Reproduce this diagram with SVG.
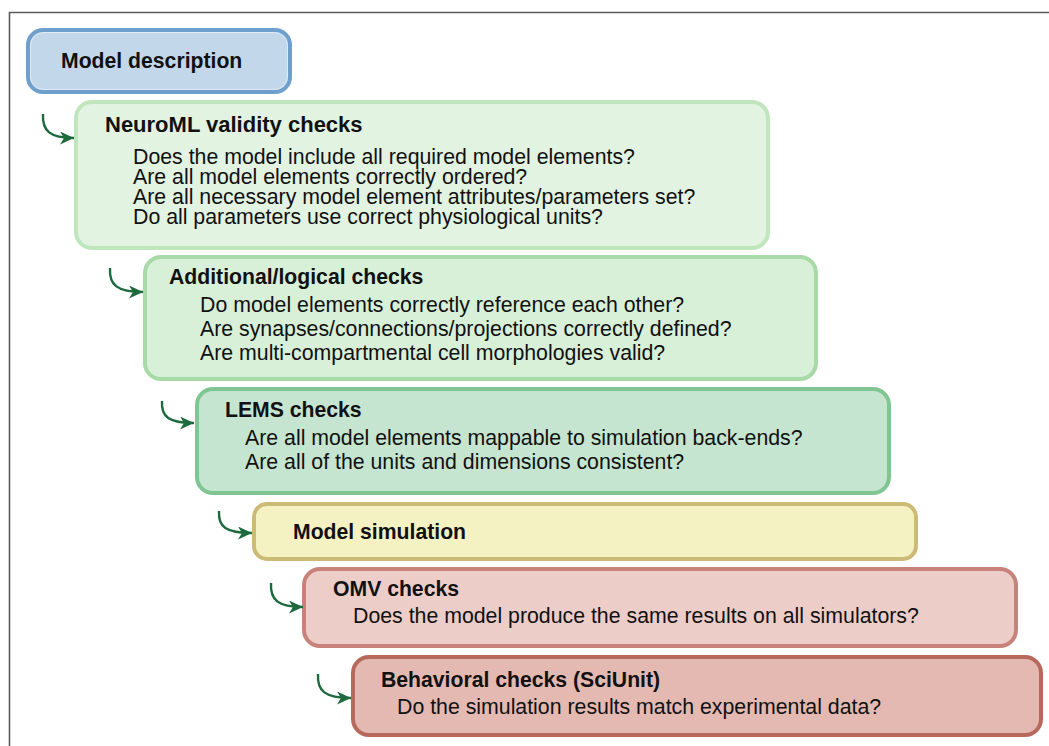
<svg xmlns="http://www.w3.org/2000/svg" width="1049" height="746" viewBox="0 0 1049 746">
  <defs>
    <marker id="arrowhead" markerUnits="userSpaceOnUse" markerWidth="15" markerHeight="13" viewBox="0 0 15 13" refX="14" refY="6.5" orient="auto">
      <path d="M0,0 L14,6.5 L0,13 L4,6.5 Z" fill="#1c6a3d"/>
    </marker>
    <style>
      text { font-family: "Liberation Sans", Arial, sans-serif; font-size: 21.3px; fill: #111; }
      .title { font-weight: bold; font-size: 21.2px; }
      .box { stroke-width: 4; }
      .inner { fill: none; stroke-width: 1; stroke-opacity: 0.45; stroke: #ffffff; }
      .conn { fill: none; stroke: #1c6a3d; stroke-width: 2.4; marker-end: url(#arrowhead); }
    </style>
  </defs>

  <rect width="1049" height="746" fill="#ffffff"/>

  <!-- outer frame (top and left edges) -->
  <path d="M9.5,746 V12.5 H1049" fill="none" stroke="#5a5a5a" stroke-width="1.6"/>

  <g id="model-description">
    <rect class="box" x="28" y="30" width="262" height="62" rx="15" fill="#c3d7ea" stroke="#6f9fcc"/>
    <rect class="inner" x="30.5" y="32.5" width="257" height="57" rx="13"/>
    <text class="title" x="61" y="68">Model description</text>
  </g>

  <g id="neuroml-checks">
    <rect class="box" x="76" y="102" width="692" height="146" rx="16" fill="#e3f3e1" stroke="#c0e6bd"/>
    <text class="title" x="105" y="132" style="font-size:22px">NeuroML validity checks</text>
    <text x="133" y="164">Does the model include all required model elements?</text>
    <text x="133" y="184">Are all model elements correctly ordered?</text>
    <text x="133" y="204">Are all necessary model element attributes/parameters set?</text>
    <text x="133" y="224">Do all parameters use correct physiological units?</text>
  </g>

  <g id="logical-checks">
    <rect class="box" x="145" y="257" width="671" height="122" rx="16" fill="#d8efd8" stroke="#a7daa6"/>
    <text class="title" x="169" y="284">Additional/logical checks</text>
    <text x="200" y="312">Do model elements correctly reference each other?</text>
    <text x="200" y="336">Are synapses/connections/projections correctly defined?</text>
    <text x="200" y="360">Are multi-compartmental cell morphologies valid?</text>
  </g>

  <g id="lems-checks">
    <rect class="box" x="197" y="389" width="692" height="104" rx="16" fill="#c6e5d0" stroke="#80c692"/>
    <text class="title" x="225" y="417">LEMS checks</text>
    <text x="245" y="445">Are all model elements mappable to simulation back-ends?</text>
    <text x="245" y="469">Are all of the units and dimensions consistent?</text>
  </g>

  <g id="model-simulation">
    <rect class="box" x="254" y="504" width="662" height="55" rx="13" fill="#f4f2c2" stroke="#cbbb76"/>
    <text class="title" x="293" y="539">Model simulation</text>
  </g>

  <g id="omv-checks">
    <rect class="box" x="304" y="569" width="712" height="77" rx="16" fill="#edcdc8" stroke="#c6827b"/>
    <text class="title" x="333" y="596">OMV checks</text>
    <text x="353" y="623">Does the model produce the same results on all simulators?</text>
  </g>

  <g id="behavioral-checks">
    <rect class="box" x="353" y="657" width="688" height="78" rx="16" fill="#e3b9b1" stroke="#b7695e"/>
    <text class="title" x="381" y="687">Behavioral checks (SciUnit)</text>
    <text x="397" y="714">Do the simulation results match experimental data?</text>
  </g>

  <g id="connectors">
    <path class="conn" d="M43,114 C42,131 50,138 74,138"/>
    <path class="conn" d="M110,268 C109,285 117,292 143,292"/>
    <path class="conn" d="M162,401 C161,417 169,423 194,423"/>
    <path class="conn" d="M219,511 C218,527 226,533 252,533"/>
    <path class="conn" d="M271,583 C270,600 278,607 303,607"/>
    <path class="conn" d="M318,674 C317,691 325,698 351,698"/>
  </g>
</svg>
